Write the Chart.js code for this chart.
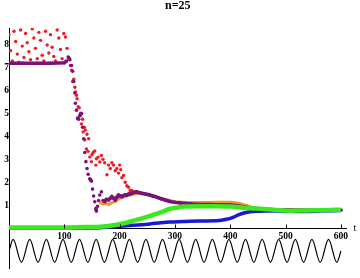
<!DOCTYPE html>
<html>
<head>
<meta charset="utf-8">
<script src="https://cdn.jsdelivr.net/npm/chart.js@4.4.0/dist/chart.umd.min.js"></script>
<style>
  html, body { margin: 0; padding: 0; background: #fff; }
  #wrap { width: 360px; height: 278px; position: relative; }
</style>
</head>
<body>
<div id="wrap"><canvas id="chart"></canvas></div>
<script>
// red: scattered dots
const redT = [0, 3, 6, 9, 12, 15, 18, 21, 24, 27, 30, 33, 36, 39, 42, 45, 48, 51, 54, 57, 60, 63, 66, 69, 72, 75, 78, 81, 84, 87, 90, 93, 96, 99, 102, 105, 108,
  111, 113, 115, 117, 119, 120, 122, 123, 125, 127, 129, 131, 133, 134, 136, 137, 138, 140, 141, 143, 144, 146, 149, 150, 152, 155, 157, 158, 161, 164, 167, 170, 173, 177, 180, 183, 186, 189, 192, 195, 198, 200, 202, 204, 207, 210, 213, 216, 219, 222, 225, 228];
const redY = [8.45, 7.75, 7.3, 8.6, 8.15, 7.6, 7.25, 8.65, 7.95, 7.45, 8.5, 8.1, 7.7, 7.35, 8.7, 8.3, 7.85, 7.4, 8.55, 8.2, 7.55, 7.3, 8.6, 8.0, 7.65, 8.45, 7.9, 7.5, 7.3, 8.65, 8.3, 7.8, 7.4, 8.5, 8.35, 7.85, 7.45,
  7.1, 6.9, 6.4, 6.5, 6.15, 5.95, 5.8, 5.65, 5.3, 5.25, 4.95, 4.55, 4.75, 4.2, 4.4, 3.85, 4.28, 3.45, 4.1, 3.35, 3.9, 3.1, 2.9, 3.2, 3.3, 3.37, 2.75, 3.03, 3.1, 2.89, 3.17, 3.0, 2.85, 2.33, 2.75, 2.6, 2.85, 2.75, 2.5, 2.6, 2.4, 2.75, 2.55, 2.2, 2.3, 2.0, 1.85, 1.78, 1.64, 1.64, 1.55, 1.5];

// purple: dots joined where they sit close
const purpleT = [0, 25, 50, 75, 100, 104, 107, 110, 113, 115, 117, 119, 120, 122, 124, 126, 128, 130, 131, 133, 135, 137, 139, 141, 143, 146, 149, 151, 153, 155, 157, 158, 160, 162, 164, 167, 170, 173, 176, 180, 183, 186, 189, 192, 195, 198, 201, 204, 207, 210, 213, 216, 219, 222, 225, 228, 231, 235, 240, 245, 250, 255, 260, 265, 270, 275, 280, 285, 291, 300, 310, 320, 330, 345, 360, 375, 390, 400, 410, 417, 425, 436, 445, 460, 480, 500, 530, 560, 600];
const purpleY = [7.2, 7.2, 7.2, 7.2, 7.22, 7.3, 7.47, 7.35, 7.1, 6.85, 6.4, 5.9, 5.45, 5.15, 4.8, 4.75, 4.9, 5.0, 5.0, 4.4, 3.9, 3.3, 2.9, 2.6, 2.35, 2.15, 2.05, 1.7, 1.4, 1.15, 0.85, 0.74, 0.95, 1.2, 1.44, 1.58, 1.2, 1.16, 1.25, 1.23, 1.3, 1.37, 1.3, 1.23, 1.35, 1.44, 1.4, 1.37, 1.42, 1.45, 1.44, 1.48, 1.5, 1.51, 1.55, 1.57, 1.58, 1.55, 1.52, 1.5, 1.47, 1.44, 1.4, 1.37, 1.32, 1.28, 1.24, 1.2, 1.16, 1.12, 1.09, 1.07, 1.05, 1.03, 1.03, 1.02, 1.02, 1.01, 0.98, 0.95, 0.92, 0.88, 0.85, 0.82, 0.8, 0.8, 0.78, 0.78, 0.78];

const orangeT = [165, 170, 175, 180, 185, 190, 195, 200, 210, 220, 230, 240, 250, 260, 270, 280, 290, 300, 320, 340, 360, 380, 400, 415, 430, 440, 450, 470, 500, 600];
const orangeY = [1.1, 1.05, 1.08, 1.03, 1.1, 1.15, 1.22, 1.3, 1.38, 1.45, 1.52, 1.5, 1.45, 1.4, 1.33, 1.26, 1.2, 1.15, 1.12, 1.12, 1.12, 1.13, 1.13, 1.08, 0.98, 0.9, 0.85, 0.82, 0.8, 0.79];

const greenT = [0, 100, 120, 140, 160, 180, 195, 210, 225, 240, 255, 273, 290, 305, 315, 345, 375, 400, 420, 436, 454, 480, 508, 540, 570, 600];
const greenY = [0.02, 0.02, 0.03, 0.04, 0.05, 0.09, 0.14, 0.22, 0.32, 0.42, 0.53, 0.67, 0.83, 0.9, 0.94, 0.95, 0.95, 0.94, 0.9, 0.86, 0.84, 0.79, 0.76, 0.77, 0.78, 0.8];

const blueT = [0, 150, 170, 185, 200, 225, 255, 275, 291, 315, 345, 375, 393, 405, 417, 426, 436, 450, 466, 490, 526, 560, 600];
const blueY = [0, 0, 0.02, 0.05, 0.08, 0.12, 0.18, 0.23, 0.26, 0.28, 0.31, 0.32, 0.38, 0.47, 0.6, 0.67, 0.71, 0.73, 0.74, 0.74, 0.72, 0.74, 0.77];

// driving signal under the axis: start, peaks/troughs, end
const sineT = [0, 7.5, 22.5, 37.5, 52.5, 67.5, 82.5, 97.5, 112.5, 127.5, 142.5, 157.5, 172.5, 187.5, 202.5, 217.5, 232.5, 247.5, 262.5, 277.5, 292.5, 307.5, 322.5, 337.5, 352.5, 367.5, 382.5, 397.5, 412.5, 427.5, 442.5, 457.5, 472.5, 487.5, 502.5, 517.5, 532.5, 547.5, 562.5, 577.5, 592.5, 600];
const sineY = [-1, -0.5, -1.5, -0.5, -1.5, -0.5, -1.5, -0.5, -1.5, -0.5, -1.5, -0.5, -1.5, -0.5, -1.5, -0.5, -1.5, -0.5, -1.5, -0.5, -1.5, -0.5, -1.5, -0.5, -1.5, -0.5, -1.5, -0.5, -1.5, -0.5, -1.5, -0.5, -1.5, -0.5, -1.5, -0.5, -1.5, -0.5, -1.5, -0.5, -1.5, -1];

const xTicks = [100, 200, 300, 400, 500, 600];
const yTicks = [1, 2, 3, 4, 5, 6, 7, 8];

const RED = "rgb(238, 28, 36)";
const PURPLE = "rgb(122, 18, 122)";
const ORANGE = "rgb(240, 150, 45)";
const GREEN = "rgb(60, 232, 30)";
const BLUE = "rgb(24, 24, 214)";
const SERIF = "'Liberation Serif', 'DejaVu Serif', serif";

function pts(ts, ys) {
  return ts.map((t, i) => ({ x: t, y: ys[i] }));
}

// hide the joining line where neighbouring dots are far apart
function joinNear(color) {
  return (ctx) => (Math.abs(ctx.p0.y - ctx.p1.y) > 3 ? "rgba(0,0,0,0)" : color);
}

const axisExtras = {
  id: "axisExtras",
  afterDraw(chart) {
    const { ctx, scales: { x, y } } = chart;
    const y0 = Math.round(y.getPixelForValue(0)) + 0.5;
    ctx.save();
    ctx.strokeStyle = "#000";
    ctx.lineWidth = 1;
    xTicks.forEach((v) => {
      const px = Math.round(x.getPixelForValue(v)) + 0.5;
      ctx.beginPath();
      ctx.moveTo(px, y0);
      ctx.lineTo(px, y0 - 4);
      ctx.stroke();
    });
    ctx.fillStyle = "#000";
    ctx.font = "10px " + SERIF;
    ctx.textBaseline = "middle";
    ctx.fillText("t", x.right + 7, y0);
    ctx.restore();
  },
};

new Chart(document.getElementById("chart"), {
  type: "scatter",
  data: {
    datasets: [
      {
        label: "signal",
        data: pts(sineT, sineY),
        showLine: true,
        borderColor: "#000",
        borderWidth: 1.2,
        pointRadius: 0,
        cubicInterpolationMode: "monotone",
        order: 0,
      },
      {
        label: "green",
        data: pts(greenT, greenY),
        showLine: true,
        borderColor: GREEN,
        borderWidth: 4.5,
        pointRadius: 0,
        cubicInterpolationMode: "monotone",
        order: 1,
      },
      {
        label: "blue",
        data: pts(blueT, blueY),
        showLine: true,
        borderColor: BLUE,
        borderWidth: 3.5,
        pointRadius: 0,
        cubicInterpolationMode: "monotone",
        order: 2,
      },
      {
        label: "purple",
        data: pts(purpleT, purpleY),
        showLine: true,
        borderColor: PURPLE,
        borderWidth: 3.5,
        segment: { borderColor: joinNear(PURPLE) },
        pointRadius: 1.8,
        pointBorderWidth: 0,
        pointBackgroundColor: PURPLE,
        order: 3,
      },
      {
        label: "orange",
        data: pts(orangeT, orangeY),
        showLine: true,
        borderColor: ORANGE,
        borderWidth: 3,
        segment: { borderColor: joinNear(ORANGE) },
        pointRadius: 1.5,
        pointBorderWidth: 0,
        pointBackgroundColor: ORANGE,
        order: 4,
      },
      {
        label: "red",
        data: pts(redT, redY),
        showLine: false,
        pointRadius: 1.7,
        pointBorderWidth: 0,
        pointBackgroundColor: RED,
        order: 5,
      },
    ],
  },
  options: {
    responsive: true,
    maintainAspectRatio: false,
    animation: false,
    devicePixelRatio: 1,
    layout: { padding: { left: 9, right: 13.5, top: 0, bottom: 0 } },
    plugins: {
      legend: { display: false },
      tooltip: { enabled: false },
      title: {
        display: true,
        text: "n=25",
        color: "#000",
        font: { family: SERIF, size: 12, weight: "bold", lineHeight: 1 },
        padding: { top: 0, bottom: 16 },
      },
    },
    scales: {
      x: {
        type: "linear",
        min: 0,
        max: 610,
        position: { y: 0 },
        border: { display: true, color: "#000", width: 1 },
        grid: { drawOnChartArea: false, drawTicks: false },
        afterBuildTicks: (scale) => {
          scale.ticks = xTicks.map((v) => ({ value: v }));
        },
        ticks: {
          padding: 3,
          color: "#000",
          maxRotation: 0,
          autoSkip: false,
          font: { family: SERIF, size: 9.5, weight: "bold" },
        },
      },
      y: {
        type: "linear",
        min: -1.76,
        max: 8.74,
        position: { x: 0 },
        border: { display: true, color: "#000", width: 1 },
        grid: { drawOnChartArea: false, drawTicks: false },
        afterBuildTicks: (scale) => {
          scale.ticks = yTicks.map((v) => ({ value: v }));
        },
        ticks: {
          padding: 4,
          color: "#000",
          autoSkip: false,
          font: { family: SERIF, size: 9.5, weight: "bold" },
        },
      },
    },
  },
  plugins: [axisExtras],
});
</script>
</body>
</html>
